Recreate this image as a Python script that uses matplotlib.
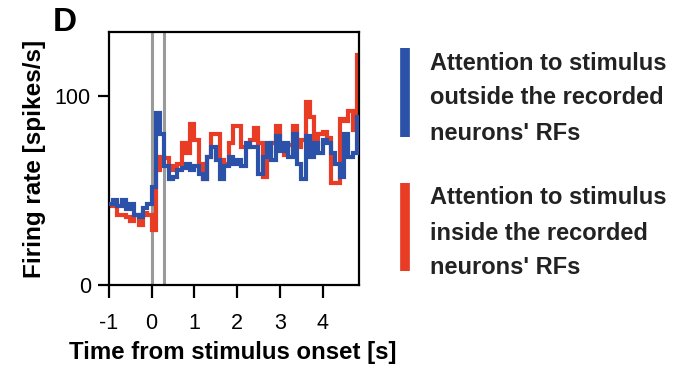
import numpy as np
import matplotlib
matplotlib.use("Agg")
import matplotlib.pyplot as plt
from matplotlib.lines import Line2D

plt.rcParams['font.family'] = ['Liberation Sans', 'DejaVu Sans']

# bin left edges (s), 0.1 s bins
bin_start = -1.0
bin_width = 0.1

rate_outside = [43, 45, 42, 45, 40, 43, 37, 36, 41, 43,
                52, 91, 80, 63, 56, 57, 61, 62, 64, 61,
                63, 59, 56, 68, 73, 66, 56, 63, 68, 64,
                66, 63, 75, 73, 73, 59, 68, 75, 66, 79,
                71, 75, 68, 80, 64, 56, 79, 68, 75, 70,
                77, 75, 70, 64, 57, 80, 68, 70, 89]
rate_inside = [42, 43, 37, 37, 36, 34, 37, 32, 38, 37,
               29, 61, 68, 67, 61, 63, 64, 75, 70, 85,
               77, 64, 56, 68, 80, 80, 66, 64, 75, 84,
               84, 73, 73, 77, 83, 75, 57, 71, 75, 84,
               73, 69, 74, 84, 73, 77, 97, 89, 75, 80,
               81, 78, 54, 54, 88, 87, 92, 82, 122]

xticks = [-1, 0, 1, 2, 3, 4]
yticks = [0, 100]
marker_times = [0.0, 0.3]

blue = '#2b52a8'
red = '#e83c25'
gray = '#9a9a9a'

W, H = 676, 372
def fx(px):
    return px / W
def fy(py):
    return 1 - py / H

fig = plt.figure(figsize=(6.76, 3.72), dpi=100)
ax = fig.add_axes([0.161, 0.234, 0.370, 0.680])

n = len(rate_inside)
edges = bin_start + bin_width * np.arange(n + 1)

for t in marker_times:
    ax.axvline(t, color=gray, lw=2.2, zorder=1)

ax.stairs(rate_inside, edges, color=red, lw=3.0, zorder=2, baseline=None)
ax.stairs(rate_outside, edges, color=blue, lw=3.0, zorder=3, baseline=None)

ax.set_xlim(-1, 4.85)
ax.set_ylim(0, 134)
ax.set_xticks(xticks)
ax.set_xticklabels([str(v) for v in xticks])
ax.set_yticks(yticks)
ax.tick_params(direction='out', length=8, width=1.6, labelsize=15.5, pad=5)
ax.tick_params(axis='x', length=9, pad=11)
for s in ax.spines.values():
    s.set_linewidth(1.6)

fig.text(fx(233), fy(352), 'Time from stimulus onset [s]', fontsize=17.3,
         fontweight='bold', ha='center', va='center')
ax.set_ylabel('Firing rate [spikes/s]', fontsize=17.5, fontweight='bold', labelpad=6)

fig.text(fx(53), fy(22.5), 'D', fontsize=24, fontweight='bold', ha='left', va='center')

# legend
fig.add_artist(Line2D([fx(405), fx(405)], [fy(48), fy(137)], color=blue, lw=7, solid_capstyle='butt'))
fig.add_artist(Line2D([fx(405), fx(405)], [fy(183), fy(271)], color=red, lw=7, solid_capstyle='butt'))

lines_out = ['Attention to stimulus', 'outside the recorded', "neurons' RFs"]
lines_in = ['Attention to stimulus', 'inside the recorded', "neurons' RFs"]
for i, (t1, t2) in enumerate(zip(lines_out, lines_in)):
    fig.text(fx(430), fy(63 + 35 * i), t1, fontsize=17, fontweight='bold', va='center', ha='left', color='#222222')
    fig.text(fx(430), fy(198 + 35 * i), t2, fontsize=17, fontweight='bold', va='center', ha='left', color='#222222')

fig.savefig('out.png', dpi=100)
